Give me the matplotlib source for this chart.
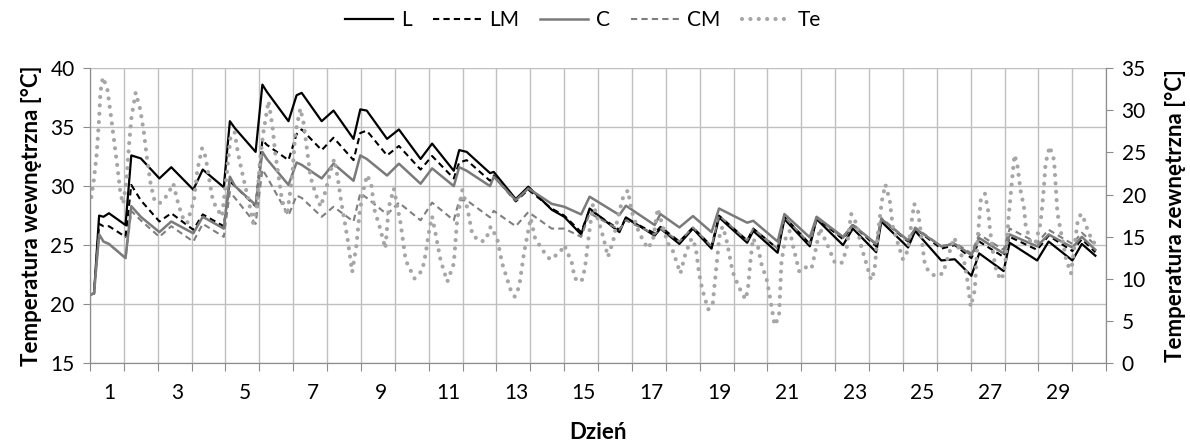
import matplotlib
matplotlib.use("Agg")
import matplotlib.pyplot as plt
from matplotlib.lines import Line2D

# days (x) for the indoor series, shared by L, LM, C, CM
t_in = [0.00, 0.12, 0.27, 0.40, 0.56, 1.05,
        1.22, 1.50, 2.05, 2.40, 3.05, 3.33, 3.95,
        4.13, 4.28, 4.89, 5.09, 5.22, 5.86,
        6.10, 6.25, 6.84, 7.19, 7.78,
        7.98, 8.17, 8.77, 9.12, 9.76,
        10.10, 10.74, 10.90, 11.12, 11.81,
        11.92, 12.57, 12.94, 13.63, 14.00, 14.50,
        14.75, 15.63, 15.82, 16.67, 16.84, 17.40,
        17.80, 18.35, 18.57, 19.40, 19.58, 20.30,
        20.50, 21.25, 21.45, 22.23, 22.52, 23.21,
        23.36, 24.15, 24.36, 25.13, 25.53, 26.02,
        26.25, 26.97, 27.15, 27.96, 28.30, 29.00,
        29.28, 29.68]

L = [20.8, 20.9, 27.5, 27.4, 27.7, 26.7,
     32.6, 32.35, 30.65, 31.6, 29.7, 31.4, 29.9,
     35.5, 34.9, 32.9, 38.6, 38.0, 35.5,
     37.7, 37.9, 35.5, 36.4, 34.0,
     36.5, 36.4, 34.0, 34.8, 32.3,
     33.6, 31.3, 33.05, 32.9, 31.1,
     31.2, 28.9, 29.95, 28.0, 27.4, 25.9,
     28.1, 26.1, 27.35, 25.8, 26.4, 25.1,
     26.4, 24.7, 27.35, 25.2, 26.2, 24.35,
     27.2, 24.9, 27.2, 25.0, 26.4, 24.4,
     27.0, 24.8, 26.2, 23.7, 23.8, 22.4,
     24.3, 22.8, 25.2, 23.7, 25.3, 23.7,
     25.1, 24.1]

LM = [20.8, 20.9, 26.8, 26.6, 26.6, 25.7,
      30.1, 28.8, 27.0, 27.7, 26.3, 27.6, 26.6,
      30.4, 30.0, 28.3, 33.9, 33.5, 32.2,
      34.4, 34.8, 33.05, 34.1, 32.2,
      34.5, 34.7, 32.6, 33.4, 31.4,
      32.55, 30.65, 32.0, 32.2, 30.45,
      30.9, 28.7, 29.7, 28.1, 27.5, 26.1,
      28.0, 26.3, 27.26, 26.0, 26.55, 25.3,
      26.5, 24.9, 27.5, 25.4, 26.4, 24.7,
      27.4, 25.1, 27.3, 25.5, 26.7, 24.9,
      27.2, 25.3, 26.4, 24.7, 25.0, 23.9,
      25.3, 24.0, 25.7, 24.6, 25.8, 24.5,
      25.5, 24.4]

C = [20.8, 20.9, 25.9, 25.3, 25.1, 23.9,
     28.3, 27.4, 26.1, 27.0, 26.0, 27.4, 26.4,
     30.8, 30.0, 28.4, 32.9, 32.3, 30.1,
     32.0, 31.8, 30.65, 31.9, 30.45,
     32.6, 32.3, 30.9, 31.9, 30.2,
     31.5, 30.0, 31.6, 31.3, 30.0,
     30.8, 28.8, 29.8, 28.5, 28.25, 27.6,
     29.1, 27.55, 28.34, 26.7, 27.63, 26.5,
     27.46, 26.1, 28.1, 26.9, 27.06, 25.3,
     27.63, 25.65, 27.4, 25.7, 26.7, 25.1,
     27.2, 25.4, 26.4, 24.9, 25.1, 24.15,
     25.6, 24.3, 25.9, 24.9, 25.9, 24.8,
     25.7, 24.6]

CM = [20.8, 20.9, 25.9, 25.3, 25.1, 23.9,
      27.9, 27.1, 25.7, 26.6, 25.3, 26.8, 25.7,
      29.5, 29.0, 26.8, 31.4, 30.8, 27.5,
      29.2, 29.0, 27.4, 28.25, 27.0,
      29.4, 29.0, 27.6, 28.6, 27.1,
      28.6, 27.1, 28.8, 28.8, 27.35,
      27.9, 26.6, 27.8, 26.4, 26.4, 25.7,
      27.7, 26.3, 27.1, 25.9, 26.4, 25.3,
      26.5, 24.9, 27.5, 25.4, 26.4, 24.7,
      27.4, 25.1, 27.3, 25.6, 26.8, 25.0,
      27.3, 25.4, 26.5, 24.9, 25.2, 24.3,
      25.9, 24.6, 26.4, 25.2, 26.3, 25.1,
      26.05, 25.0]

# outdoor temperature (right axis)
t_te = [0.04, 0.12, 0.20, 0.27, 0.31, 0.38, 0.51, 0.61, 0.71, 0.81, 0.90, 0.98,
        1.08, 1.15, 1.22, 1.35, 1.49, 1.59, 1.69, 1.79, 1.89, 2.04,
        2.28, 2.46, 2.58, 2.72, 2.87,
        3.07, 3.17, 3.31, 3.41, 3.51, 3.61, 3.71, 3.90,
        4.05, 4.15, 4.27, 4.37, 4.52, 4.67, 4.82,
        4.92, 5.02, 5.12, 5.27, 5.39, 5.47, 5.57, 5.67, 5.82,
        5.97, 6.06, 6.21, 6.31, 6.41, 6.51, 6.66, 6.81,
        6.96, 7.11, 7.21, 7.31, 7.41, 7.51, 7.61, 7.74,
        7.86, 7.96, 8.05, 8.18, 8.30, 8.40, 8.55, 8.72,
        8.82, 8.97, 9.17, 9.32, 9.58,
        9.81, 9.91, 10.0, 10.1, 10.2, 10.35, 10.55,
        10.74, 10.84, 10.99, 11.14, 11.29, 11.53, 11.68, 11.83, 12.02, 12.17, 12.42, 12.54,
        12.67, 12.81, 13.01, 13.14, 13.38, 13.58, 13.87, 14.0, 14.22, 14.31, 14.51,
        14.61, 14.71, 14.85, 15.0, 15.15, 15.29,
        15.44, 15.59, 15.74, 15.88, 15.98, 16.18, 16.32, 16.47,
        16.62, 16.76, 16.91, 17.06, 17.2, 17.43,
        17.58, 17.76, 17.88, 17.98, 18.08, 18.25,
        18.38, 18.48, 18.58, 18.67, 18.77, 18.87, 18.97, 19.15, 19.35,
        19.42, 19.49, 19.57, 19.72, 19.82, 19.98, 20.08, 20.21,
        20.34, 20.41, 20.51, 20.66, 20.76, 20.94, 21.15, 21.3,
        21.4, 21.55, 21.75, 21.98, 22.18,
        22.33, 22.47, 22.62, 22.77, 22.92, 23.06,
        23.16, 23.26, 23.38, 23.48, 23.61, 23.7, 23.85, 24.0,
        24.15, 24.25, 24.33, 24.44, 24.54, 24.64, 24.74, 24.94,
        25.18, 25.33, 25.51, 25.67, 25.82, 25.9, 26.0,
        26.12, 26.2, 26.3, 26.42, 26.52, 26.57, 26.67, 26.77, 26.92,
        27.02, 27.12, 27.22, 27.29, 27.37, 27.47, 27.57, 27.62, 27.76, 27.91,
        28.06, 28.11, 28.16, 28.21, 28.33, 28.46, 28.51, 28.56, 28.66, 28.81, 28.96,
        29.06, 29.15, 29.25, 29.35, 29.45, 29.6, 29.68]

Te = [19.7, 21.9, 24.9, 29.0, 32.2, 33.9, 32.6, 29.6, 26.4, 23.3, 20.1, 18.9,
      21.7, 25.7, 29.0, 32.1, 30.0, 27.4, 24.1, 21.3, 19.5, 18.9,
      19.9, 21.3, 19.3, 17.4, 16.6,
      19.3, 22.9, 25.5, 24.5, 22.1, 19.7, 18.55, 17.4,
      22.9, 26.85, 27.4, 24.9, 22.1, 19.5, 16.65,
      18.55, 24.1, 27.4, 31.1, 28.0, 24.9, 22.1, 19.3, 17.6,
      22.1, 27.2, 30.2, 28.4, 25.3, 22.1, 20.1, 18.55,
      20.5, 22.9, 24.2, 22.1, 19.3, 17.0, 14.6, 10.8,
      13.8, 17.8, 20.2, 22.3, 21.3, 18.15, 16.2, 13.6,
      18.5, 20.7, 16.6, 12.2, 10.05,
      11.0, 13.0, 15.4, 17.4, 15.4, 12.2, 9.66,
      11.8, 17.0, 20.5, 18.4, 15.2, 14.4, 14.6, 16.2, 14.8, 11.8, 8.67, 7.88,
      9.06, 13.0, 17.2, 14.8, 13.3, 12.3, 13.1, 14.0, 12.0, 10.05, 9.66,
      11.2, 14.6, 18.9, 17.0, 15.0, 12.6,
      14.4, 17.4, 19.7, 20.5, 18.15, 15.8, 14.6, 13.6,
      14.6, 18.35, 16.2, 14.2, 13.4, 10.64,
      13.0, 14.8, 13.8, 10.64, 8.67, 6.37,
      6.9, 11.0, 15.0, 16.2, 15.0, 13.0, 10.85, 9.06, 7.56,
      8.67, 11.8, 14.8, 13.8, 11.8, 9.85, 7.7, 4.5,
      5.5, 11.8, 14.6, 15.7, 13.8, 10.85, 11.4, 11.2,
      13.0, 16.0, 14.2, 12.0, 11.8,
      13.4, 17.7, 16.6, 13.8, 11.8, 9.85,
      11.0, 15.4, 19.3, 21.2, 19.3, 16.2, 14.2, 12.3,
      13.4, 16.6, 18.9, 18.15, 15.0, 11.9, 11.0, 10.33,
      10.64, 12.6, 14.9, 13.4, 11.8, 9.85, 6.7,
      8.67, 14.5, 19.5, 20.1, 17.95, 15.8, 12.8, 10.64, 9.9,
      11.8, 17.4, 21.7, 24.7, 23.7, 20.5, 18.55, 16.4, 14.4, 14.2,
      16.6, 18.55, 20.9, 23.7, 25.7, 24.1, 20.9, 17.8, 15.6, 12.4, 10.64,
      13.8, 16.6, 17.7, 17.0, 15.8, 14.4, 14.2]

day_labels = [str(d) for d in range(1, 30, 2)]

plt.rcParams['font.family'] = ['Lato', 'DejaVu Sans']
grid_col = '#BFBFBF'
spine_col = '#8C8C8C'

fig = plt.figure(figsize=(11.9, 4.45), dpi=100)
ax = fig.add_axes([0.0756, 0.184, 0.854, 0.663])
ax2 = ax.twinx()

ax.plot(t_in, L, color='black', lw=1.6, label='L')
ax.plot(t_in, LM, color='black', lw=1.5, dashes=(3, 2), label='LM')
ax.plot(t_in, C, color='#7A7A7A', lw=1.8, label='C')
ax.plot(t_in, CM, color='#7F7F7F', lw=1.5, dashes=(3, 2), label='CM')
ax2.plot(t_te, Te, color='#A6A6A6', lw=3.0, dashes=(0.01, 2.0),
         dash_capstyle='round', label='Te')

ax.set_xlim(0, 30)
ax.set_ylim(15, 40)
ax2.set_ylim(0, 35)
ax.set_yticks(range(15, 41, 5))
ax2.set_yticks(range(0, 36, 5))

ax.set_xticks(range(0, 31))
ax.set_xticklabels([])
ax.set_xticks([d - 0.42 for d in range(1, 30, 2)], minor=True)
ax.set_xticklabels(day_labels, minor=True)
ax.tick_params(axis='x', which='minor', length=0, pad=14, labelsize=15)
ax.tick_params(axis='x', which='major', length=6, color=spine_col, direction='out')
ax.tick_params(axis='y', length=5, color=spine_col, labelsize=15, pad=6)
ax2.tick_params(axis='y', length=5, color=spine_col, labelsize=15, pad=6)

ax.grid(True, which='major', color=grid_col, lw=1)
ax.set_axisbelow(True)

for a in (ax, ax2):
    a.spines['top'].set_visible(False)
    for s in ('left', 'right', 'bottom'):
        a.spines[s].set_color(spine_col)

ax.set_ylabel('Temperatura wewnętrzna [°C]', fontsize=16, fontweight='bold', labelpad=6)
ax2.set_ylabel('Temperatura zewnętrzna [°C]', fontsize=16, fontweight='bold', labelpad=14)
ax.set_xlabel('Dzień', fontsize=16, fontweight='bold', labelpad=14)

handles = [Line2D([], [], color='black', lw=1.6),
           Line2D([], [], color='black', lw=1.5, dashes=(3, 2)),
           Line2D([], [], color='#7A7A7A', lw=1.8),
           Line2D([], [], color='#7F7F7F', lw=1.5, dashes=(3, 2)),
           Line2D([], [], color='#A6A6A6', lw=3.0, dashes=(0.01, 2.0), dash_capstyle='round')]
fig.legend(handles, ['L', 'LM', 'C', 'CM', 'Te'], loc='center',
           bbox_to_anchor=(0.49, 0.955), ncol=5, frameon=False, fontsize=15,
           handlelength=2.3, columnspacing=1.0, handletextpad=0.4)

fig.savefig('out.png', dpi=100)
